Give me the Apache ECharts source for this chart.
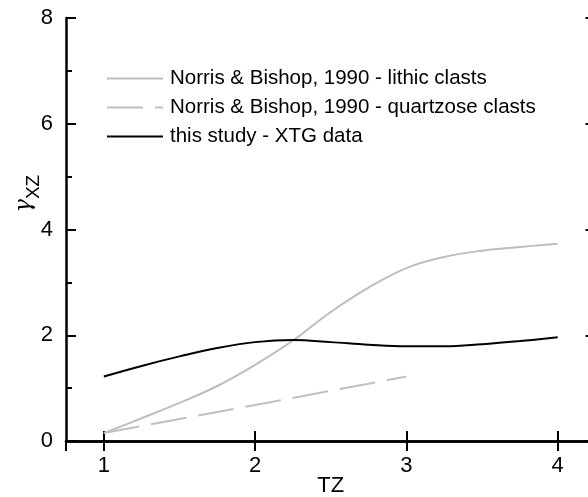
<!DOCTYPE html>
<html>
<head>
<meta charset="utf-8">
<script src="https://cdn.jsdelivr.net/npm/echarts@6/dist/echarts.min.js"></script>
<style>
  html, body { margin: 0; padding: 0; background: #fff; }
  #chart { width: 588px; height: 497px; }
</style>
</head>
<body>
<div id="chart"></div>
<script>
// TZ positions sampled along the curves
const tz = [1, 1.25, 1.5, 1.75, 2, 2.25, 2.5, 2.75, 3, 3.25, 3.5, 3.75, 4];
// Norris & Bishop (1990), lithic clasts
const lithic = [0.15, 0.43, 0.72, 1.04, 1.44, 1.90, 2.44, 2.90, 3.27, 3.48, 3.60, 3.67, 3.73];
// Norris & Bishop (1990), quartzose clasts
const quartzTz = [1, 2, 3];
const quartzose = [0.15, 0.68, 1.22];
// this study, XTG data
const xtg = [1.22, 1.42, 1.60, 1.76, 1.87, 1.91, 1.87, 1.82, 1.79, 1.79, 1.83, 1.89, 1.96];

const seriesNames = [
  'Norris & Bishop, 1990 - lithic clasts',
  'Norris & Bishop, 1990 - quartzose clasts',
  'this study - XTG data'
];
const xTickLabels = ['1', '2', '3', '4'];
const yTickLabels = ['0', '2', '4', '6', '8'];

const pairs = (xs, ys) => xs.map((x, i) => [x, ys[i]]);

const FONT = 'Liberation Sans';
const axisLineStyle = { color: '#000', width: 2.5 };

const chart = echarts.init(document.getElementById('chart'), null, { renderer: 'canvas' });

chart.setOption({
  animation: false,
  backgroundColor: '#fff',
  grid: { left: 66, top: 18, width: 529.5, height: 423, containLabel: false, outerBoundsMode: 'none' },
  legend: {
    orient: 'vertical',
    left: 101,
    top: 63,
    itemWidth: 56,
    itemHeight: 20,
    itemGap: 8,
    selectedMode: false,
    data: seriesNames,
    itemStyle: { color: 'transparent', borderColor: 'transparent', borderWidth: 0, opacity: 0 },
    textStyle: { fontFamily: FONT, fontSize: 20.5, color: '#000', lineHeight: 20, padding: [0, 0, 0, 2] }
  },
  xAxis: [
    {
      type: 'value', position: 'bottom', min: 0.75, max: 4.25, splitNumber: 4,
      name: 'TZ', nameLocation: 'middle', nameGap: 34, nameMoveOverlap: false,
      nameTextStyle: { fontFamily: FONT, fontSize: 22, color: '#000' },
      axisLine: { lineStyle: axisLineStyle },
      axisTick: { inside: true, length: 10, lineStyle: { color: '#000', width: 2 } },
      axisLabel: {
        fontFamily: FONT, fontSize: 22, color: '#000', margin: 14,
        showMinLabel: false, showMaxLabel: false,
        formatter: v => xTickLabels.includes(String(v)) ? String(v) : ''
      },
      splitLine: { show: false }
    },
    {
      type: 'value', position: 'top', min: 0.75, max: 4.25, splitNumber: 4,
      axisLine: { lineStyle: axisLineStyle },
      axisTick: { inside: true, length: 10, lineStyle: { color: '#000', width: 2 } },
      axisLabel: { show: false },
      splitLine: { show: false }
    }
  ],
  yAxis: [
    {
      type: 'value', position: 'left', min: 0, max: 8, interval: 2,
      name: '{g|γ}{s|XZ}', nameLocation: 'middle', nameRotate: 90, nameGap: 23, nameMoveOverlap: false,
      nameTextStyle: {
        padding: [0, 0, 0, 72],
        rich: {
          g: { fontFamily: 'DejaVu Serif', fontStyle: 'italic', fontSize: 22, color: '#000', verticalAlign: 'top', lineHeight: 30 },
          s: { fontFamily: FONT, fontSize: 19, color: '#000', verticalAlign: 'bottom', lineHeight: 30 }
        }
      },
      axisLine: { lineStyle: axisLineStyle },
      axisTick: { inside: true, length: 10, lineStyle: { color: '#000', width: 2 } },
      minorTick: { show: true, splitNumber: 2, length: 6, lineStyle: { color: '#000', width: 2 } },
      axisLabel: {
        fontFamily: FONT, fontSize: 22, color: '#000', margin: 13,
        formatter: v => yTickLabels.includes(String(v)) ? String(v) : ''
      },
      splitLine: { show: false }
    },
    {
      type: 'value', position: 'right', min: 0, max: 8, interval: 2,
      axisLine: { lineStyle: axisLineStyle },
      axisTick: { inside: true, length: 10, lineStyle: { color: '#000', width: 2 } },
      axisLabel: { show: false },
      splitLine: { show: false }
    }
  ],
  series: [
    {
      name: seriesNames[0], type: 'line', xAxisIndex: 0, yAxisIndex: 0,
      data: pairs(tz, lithic), smooth: 0.4, showSymbol: false, symbol: 'none',
      lineStyle: { color: '#bdbdbd', width: 2 }, itemStyle: { color: '#bdbdbd' }
    },
    {
      name: seriesNames[1], type: 'line', xAxisIndex: 0, yAxisIndex: 0,
      data: pairs(quartzTz, quartzose), smooth: false, showSymbol: false, symbol: 'none',
      lineStyle: { color: '#c0c0c0', width: 2, type: [36, 12] }, itemStyle: { color: '#c0c0c0' }
    },
    {
      name: seriesNames[2], type: 'line', xAxisIndex: 0, yAxisIndex: 0,
      data: pairs(tz, xtg), smooth: 0.4, showSymbol: false, symbol: 'none',
      lineStyle: { color: '#000', width: 2 }, itemStyle: { color: '#000' }
    }
  ]
});
</script>
</body>
</html>
